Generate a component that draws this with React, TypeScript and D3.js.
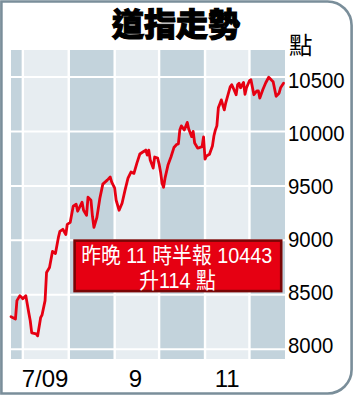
import React from "react";
import * as d3 from "d3";

const title = "道指走勢";
const unit = "點";
const noteLines = ["昨晚 11 時半報 10443", "升114 點"];

const yTicks = [8000, 8500, 9000, 9500, 10000, 10500];
const xTickDates = ["2009-07-16", "2009-09-15", "2009-11-16"];
const xTickLabels = ["7/09", "9", "11"];

const dates = [
  "2009-06-23", "2009-06-26", "2009-06-27", "2009-06-29", "2009-07-01", "2009-07-03", "2009-07-05",
  "2009-07-06", "2009-07-07", "2009-07-10", "2009-07-11", "2009-07-13", "2009-07-14", "2009-07-16",
  "2009-07-17", "2009-07-19", "2009-07-21", "2009-07-23", "2009-07-25", "2009-07-26", "2009-07-28",
  "2009-07-30", "2009-07-31", "2009-08-02", "2009-08-04", "2009-08-06", "2009-08-07", "2009-08-10",
  "2009-08-11", "2009-08-13", "2009-08-14", "2009-08-16", "2009-08-17", "2009-08-18", "2009-08-20",
  "2009-08-22", "2009-08-24", "2009-08-27", "2009-08-29", "2009-08-30", "2009-09-01", "2009-09-02",
  "2009-09-04", "2009-09-06", "2009-09-08", "2009-09-10", "2009-09-12", "2009-09-14", "2009-09-16",
  "2009-09-18", "2009-09-20", "2009-09-22", "2009-09-23", "2009-09-24", "2009-09-25", "2009-09-27",
  "2009-09-28", "2009-09-30", "2009-10-01", "2009-10-02", "2009-10-03", "2009-10-04", "2009-10-05",
  "2009-10-07", "2009-10-09", "2009-10-11", "2009-10-13", "2009-10-14", "2009-10-15", "2009-10-16",
  "2009-10-18", "2009-10-20", "2009-10-21", "2009-10-23", "2009-10-24", "2009-10-25", "2009-10-27",
  "2009-10-28", "2009-10-30", "2009-10-31", "2009-11-01", "2009-11-02", "2009-11-04", "2009-11-06",
  "2009-11-07", "2009-11-08", "2009-11-09", "2009-11-10", "2009-11-11", "2009-11-12", "2009-11-14",
  "2009-11-15", "2009-11-18", "2009-11-19", "2009-11-20", "2009-11-22", "2009-11-23", "2009-11-24",
  "2009-11-25", "2009-11-27", "2009-11-28", "2009-11-29", "2009-12-01", "2009-12-02", "2009-12-04",
  "2009-12-06", "2009-12-07", "2009-12-08", "2009-12-10", "2009-12-12", "2009-12-14", "2009-12-16",
  "2009-12-17", "2009-12-19", "2009-12-21", "2009-12-22", "2009-12-24",
];

const values = [
  8298, 8277, 8446, 8492, 8464, 8492, 8335,
  8261, 8150, 8141, 8123, 8289, 8316, 8446,
  8704, 8750, 8898, 8879, 9027, 9082, 9101,
  9054, 9147, 9165, 9313, 9331, 9267, 9350,
  9276, 9230, 9396, 9368, 9221, 9119, 9211,
  9387, 9516, 9553, 9581, 9535, 9479, 9368,
  9276, 9340, 9461, 9571, 9627, 9615, 9709,
  9793, 9811, 9829, 9783, 9829, 9737, 9663,
  9765, 9756, 9700, 9626, 9525, 9488, 9571,
  9691, 9765, 9852, 9882, 9885, 10014, 10051,
  10014, 10083, 10023, 9952, 10000, 9894, 9848,
  9850, 9860, 9950, 9745, 9775, 9790, 9866,
  9958, 10014, 10051, 10217, 10253, 10290, 10198,
  10263, 10410, 10429, 10401, 10337, 10429, 10443,
  10401, 10450, 10341, 10401, 10466, 10475, 10337,
  10373, 10373, 10306, 10383, 10447, 10498, 10470,
  10457, 10323, 10351, 10401, 10443,
];

const NUM_FONT = "'Liberation Sans', Arial, 'Noto Sans CJK TC', sans-serif";
const CJK_FONT = "'Noto Sans CJK TC', 'Noto Sans CJK SC', sans-serif";

export default function App() {
  const W = 356;
  const H = 395;
  const plot = { l: 11, r: 285, t: 50, b: 359 };
  const parse = d3.timeParse("%Y-%m-%d");

  const data = dates.map((d, i) => ({ date: parse(d) as Date, v: values[i] }));

  const x = d3
    .scaleTime()
    .domain([parse("2009-06-23") as Date, parse("2009-12-25") as Date])
    .range([plot.l, plot.r]);
  const y = d3.scaleLinear().domain([7910, 10748]).range([plot.b, plot.t]);
  const yLabel = d3.scaleLinear().domain([8000, 10500]).range([353.3, 87.5]);

  const [d0, d1] = x.domain();
  const months = d3.timeMonth.range(d3.timeMonth.floor(d0), d1);
  const bands = months.map((m, i) => {
    const next = d3.timeMonth.offset(m, 1);
    const x0 = Math.max(x(m), plot.l);
    const x1 = Math.min(x(next), plot.r);
    return { x0, x1, dark: i % 2 === 0 };
  });
  const separators = months.filter((m) => m > d0).map((m) => x(m));

  const line = d3
    .line<{ date: Date; v: number }>()
    .x((d) => x(d.date))
    .y((d) => y(d.v));

  const R = 24;
  const fl = 1.4, ft = 1.5, fr = 351.6, fb = 393.5;
  const frame = `M${fl},${ft} H${fr - R} A${R},${R} 0 0 1 ${fr},${ft + R} V${fb - R} A${R},${R} 0 0 1 ${fr - R},${fb} H${fl} Z`;

  return (
    <svg
      width={W}
      height={H}
      viewBox={`0 0 ${W} ${H}`}
      style={{ position: "absolute", left: 0, top: 0, background: "#fff" }}
    >
      <rect x={0} y={0} width={W} height={H} fill="#fff" />
      <path d={frame} fill="#fff" stroke="#7a8e9a" strokeWidth={2.6} />

      {/* title */}
      <text
        x={176}
        y={36}
        textAnchor="middle"
        fontFamily={CJK_FONT}
        fontWeight={900}
        fontSize={32}
        fill="#000"
        stroke="#000"
        strokeWidth={1.1}
      >
        {title}
      </text>
      <text x={289} y={54} fontFamily={CJK_FONT} fontSize={23.5} fill="#000">
        {unit}
      </text>

      {/* bands */}
      {bands.map((b, i) => (
        <rect
          key={"b" + i}
          x={b.x0}
          y={plot.t}
          width={b.x1 - b.x0}
          height={plot.b - plot.t}
          fill={b.dark ? "#c3d3dc" : "#e7edf1"}
        />
      ))}
      {yTicks.map((t) => (
        <line key={"h" + t} x1={plot.l} x2={plot.r} y1={y(t)} y2={y(t)} stroke="#fff" strokeWidth={2} />
      ))}
      {separators.map((sx, i) => (
        <line key={"v" + i} x1={sx} x2={sx} y1={plot.t} y2={plot.b} stroke="#fff" strokeWidth={2.4} />
      ))}

      {/* series */}
      <path
        d={line(data) || ""}
        fill="none"
        stroke="#e60012"
        strokeWidth={2.8}
        strokeLinejoin="round"
        strokeLinecap="round"
      />

      {/* y labels */}
      {yTicks.map((t) => (
        <text
          key={"yl" + t}
          transform={`translate(288, ${yLabel(t)}) scale(0.885, 1)`}
          fontFamily={NUM_FONT}
          fontSize={23}
          fill="#000"
        >
          {t}
        </text>
      ))}

      {/* x labels */}
      {xTickDates.map((d, i) => (
        <text
          key={"xl" + i}
          x={x(parse(d) as Date)}
          y={386.7}
          textAnchor="middle"
          fontFamily={NUM_FONT}
          fontSize={24}
          fill="#000"
        >
          {xTickLabels[i]}
        </text>
      ))}

      {/* annotation */}
      <rect x={74.6} y={240.6} width={206.6} height={50.5} fill="#e60012" stroke="#7a0606" strokeWidth={2.6} />
      <text
        transform={`translate(176.7, 262.7) scale(0.9, 1)`}
        textAnchor="middle"
        fontFamily={NUM_FONT}
        fontSize={22}
        fill="#fff"
      >
        {noteLines[0]}
      </text>
      <text
        transform={`translate(177.5, 287.7) scale(0.9, 1)`}
        textAnchor="middle"
        fontFamily={NUM_FONT}
        fontSize={22}
        fill="#fff"
      >
        {noteLines[1]}
      </text>
    </svg>
  );
}
